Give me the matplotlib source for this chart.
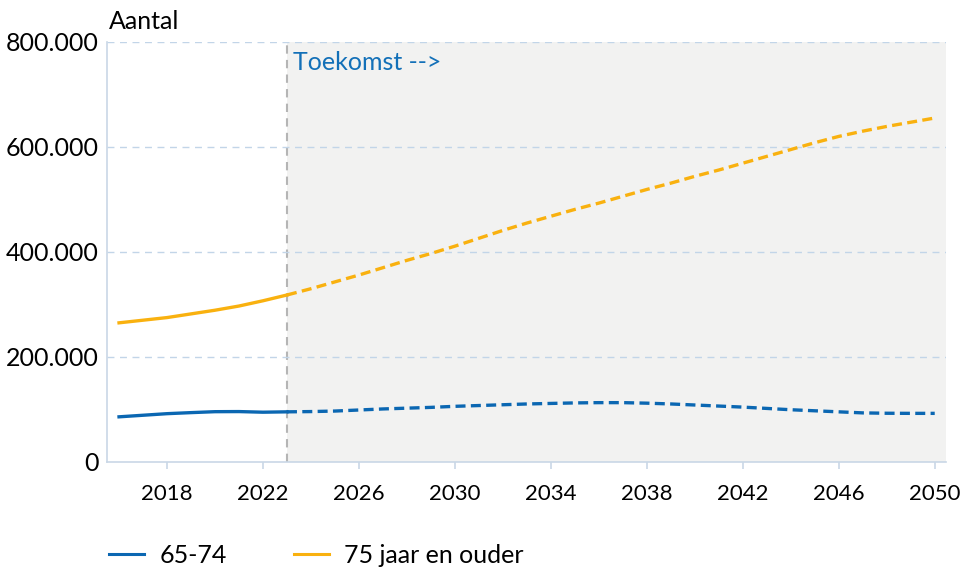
import matplotlib
matplotlib.use("Agg")
import matplotlib.pyplot as plt
from matplotlib.ticker import FuncFormatter

plt.rcParams['font.family'] = ['Lato', 'DejaVu Sans']

# data
years = list(range(2016, 2051))
age_65_74 = [86000, 89000, 92000, 94000, 95800, 96000, 94800, 95500, 96000, 97000,
             99000, 101000, 102500, 104000, 106000, 107500, 109000, 110500, 111500, 112500,
             113000, 113000, 112000, 110500, 108500, 106500, 104500, 102000, 99500, 97500,
             95500, 93500, 92800, 92600, 92600]
age_75_plus = [265000, 270000, 275000, 282000, 289000, 297000, 307000, 318000, 330000, 343000,
               356000, 370000, 384000, 397000, 411000, 426000, 441000, 455000, 468000, 481000,
               493000, 506000, 519000, 531000, 544000, 556000, 569000, 582000, 595000, 608000,
               620000, 630000, 639000, 647000, 655000]
series_names = ["65-74", "75 jaar en ouder"]
future_start = 2023
x_ticks = list(range(2018, 2051, 4))
y_ticks = [0, 200000, 400000, 600000, 800000]

blue = '#0b67b2'
orange = '#f9b10f'
axis_col = '#c9d7e6'

fig = plt.figure(figsize=(9.73, 5.70), dpi=100)
ax = fig.add_axes([0.110, 0.1895, 0.862, 0.737])

ax.set_xlim(2015.5, 2050.46)
ax.set_ylim(0, 800000)

# future shading + divider
ax.axvspan(future_start, 2050.46, color='#f2f2f1', zorder=0, lw=0)
ax.axvline(future_start, color='#b5b5b5', lw=1.5, ls=(0, (4, 3)), zorder=1)
ax.text(future_start + 0.25, 760000, "Toekomst -->", color='#1370b8', fontsize=18,
        va='center', ha='left')

k = years.index(future_start)
for vals, col, name in [(age_65_74, blue, series_names[0]), (age_75_plus, orange, series_names[1])]:
    ax.plot(years[:k + 1], vals[:k + 1], color=col, lw=2.4, label=name, zorder=3)
    ax.plot(years[k:], vals[k:], color=col, lw=2.4, ls=(0, (3, 1.6)), zorder=3)

# grid
for y in y_ticks[1:]:
    ax.axhline(y, color='#c2d5e8', lw=1, ls=(0, (5, 4)), zorder=1)

for s in ['top', 'right']:
    ax.spines[s].set_visible(False)
for s in ['left', 'bottom']:
    ax.spines[s].set_color(axis_col)
    ax.spines[s].set_linewidth(1.2)

ax.set_xticks(x_ticks)
ax.set_yticks(y_ticks)
ax.yaxis.set_major_formatter(FuncFormatter(lambda v, p: "0" if v == 0 else f"{int(v):,}".replace(",", ".")))
ax.tick_params(axis='x', length=5, color=axis_col, width=1.2, labelsize=16, pad=11)
ax.tick_params(axis='y', length=0, labelsize=18, pad=6)

fig.text(0.112, 0.963, "Aantal", fontsize=18, va='center', ha='left')

leg = ax.legend(loc='upper left', bbox_to_anchor=(-0.024, -0.142), ncol=2, frameon=False,
                fontsize=18, handlelength=1.4, columnspacing=2.7, handletextpad=0.6)
for h in leg.get_lines():
    h.set_linewidth(2.2)

fig.savefig("out.png", dpi=100)
